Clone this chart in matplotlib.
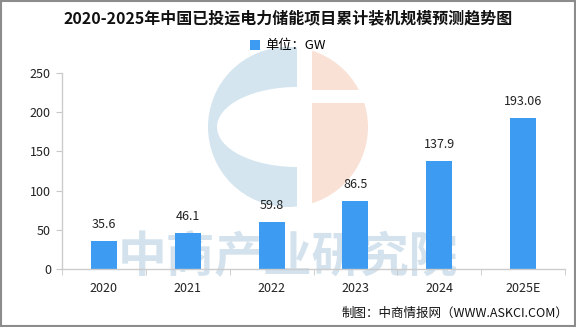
import matplotlib
matplotlib.use('Agg')
import matplotlib.pyplot as plt
from matplotlib.patches import Circle, Ellipse, Rectangle
import numpy as np

plt.rcParams['font.family'] = ['Noto Sans CJK SC', 'DejaVu Sans']

# 累计装机规模（GW）
years = ['2020', '2021', '2022', '2023', '2024', '2025E']
capacity = [35.6, 46.1, 59.8, 86.5, 137.9, 193.06]
value_labels = ['35.6', '46.1', '59.8', '86.5', '137.9', '193.06']
y_ticks = [0, 50, 100, 150, 200, 250]

W, H = 576, 327
fig = plt.figure(figsize=(W / 100, H / 100), dpi=100)

# 背景层：水印 logo 与文字，用像素坐标绘制
bg = fig.add_axes([0, 0, 1, 1], zorder=0)
bg.set_xlim(0, W)
bg.set_ylim(H, 0)
bg.axis('off')

cx, cy, r = 288, 127, 80
blue_half = Circle((cx, cy), r, color='#d4e5ef', lw=0)
bg.add_patch(blue_half)
blue_half.set_clip_path(Rectangle((0, 0), 297, H, transform=bg.transData))
peach_half = Circle((cx, cy), r, color='#f9e1d6', lw=0)
bg.add_patch(peach_half)
peach_half.set_clip_path(Rectangle((312, 0), W, H, transform=bg.transData))
inner = Ellipse((297, cy), 160, 80, color='white', lw=0)
bg.add_patch(inner)
inner.set_clip_path(Rectangle((0, 0), 297, H, transform=bg.transData))
bg.add_patch(Rectangle((312, 90), 60, 13, color='white', lw=0))

bg.text(288, 258, '中商产业研究院', fontsize=35, color='#d3e2ed',
        ha='center', va='center', fontweight='bold')

# 外框
fig.add_artist(Rectangle((0.002, 0.003), 0.996, 0.994, transform=fig.transFigure,
                         fill=False, edgecolor='#8c8c8c', lw=1.5))

# 主图
ax = fig.add_axes([62 / W, (H - 269) / H, (565 - 62) / W, (269 - 73) / H], zorder=1)
ax.patch.set_visible(False)

x = np.arange(len(years))
bars = ax.bar(x, capacity, width=0.31, color='#3d9cf2', label='单位：GW', zorder=2)
ax.bar_label(bars, labels=value_labels, padding=7, fontsize=9, color='#222222')

ax.set_xlim(-0.5, len(years) - 0.5)
ax.set_ylim(0, 250)
ax.set_yticks(y_ticks)
ax.set_xticks(x)
ax.set_xticklabels(years)
ax.set_xticks(np.arange(-0.5, len(years)), minor=True)
ax.tick_params(axis='x', which='major', length=0, pad=9, labelsize=9, labelcolor='#222222')
ax.tick_params(axis='x', which='minor', length=4, color='#c8c8c8')
ax.tick_params(axis='y', length=4, color='#c8c8c8', labelsize=9, labelcolor='#222222', pad=4)

for side in ['top', 'right']:
    ax.spines[side].set_visible(False)
for side in ['left', 'bottom']:
    ax.spines[side].set_color('#cccccc')
    ax.spines[side].set_linewidth(1)

fig.text(0.5, 1 - 18 / H, '2020-2025年中国已投运电力储能项目累计装机规模预测趋势图',
         ha='center', va='center', fontsize=11.5, fontweight='bold', color='#111111')
fig.legend(handles=[bars], labels=['单位：GW'], loc='center', bbox_to_anchor=(0.5, 1 - 46 / H),
           frameon=False, fontsize=9.5, handlelength=0.7, handleheight=0.7, handletextpad=0.4)
fig.text(568 / W, 1 - 313 / H, '制图：中商情报网（WWW.ASKCI.COM）',
         ha='right', va='center', fontsize=9, color='#111111')

fig.savefig('out.png', dpi=100)
